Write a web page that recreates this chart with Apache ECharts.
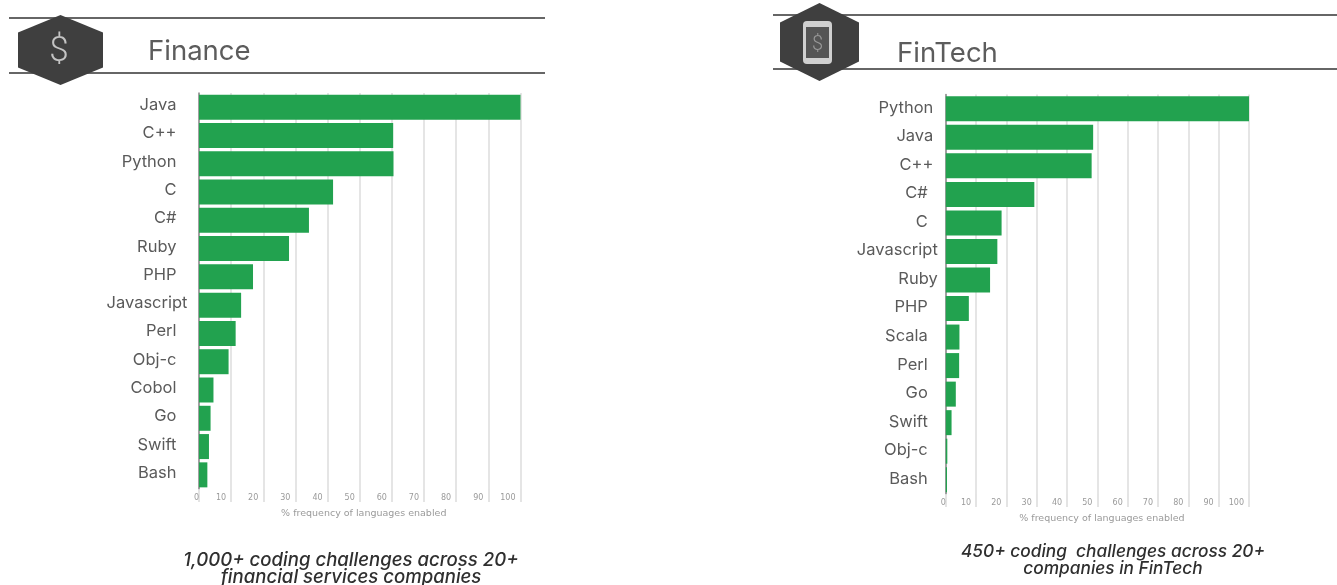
<!DOCTYPE html>
<html>
<head>
<meta charset="utf-8">
<style>html,body{margin:0;padding:0;background:#fff}#chart{width:1337px;height:585px}</style>
<script src="https://cdn.jsdelivr.net/npm/echarts@6/dist/echarts.min.js"></script>
</head>
<body>
<div id="chart"></div>
<script>
// Language popularity among finance and fintech coding challenges (% of challenges enabling each language)
const financeLanguages = ['Java','C++','Python','C','C#','Ruby','PHP','Javascript','Perl','Obj-c','Cobol','Go','Swift','Bash'];
const financeShares = [100,60.4,60.5,41.7,34.2,28,16.8,13.1,11.4,9.2,4.5,3.6,3.1,2.6];
const fintechLanguages = ['Python','Java','C++','C#','C','Javascript','Ruby','PHP','Scala','Perl','Go','Swift','Obj-c','Bash'];
const fintechShares = [100,48.6,48.1,29.2,18.4,17,14.6,7.6,4.5,4.4,3.3,1.9,0.5,0.4];
const axisTitle = '% frequency of languages enabled';
const financeCaption = '1,000+ coding challenges across 20+\nfinancial services companies';
const fintechCaption = '450+ coding  challenges across 20+\ncompanies in FinTech';

const GREEN = '#22a24f';
const INK = '#5a5a5a';
const HEX = '#3f3f3f';

// Right-hand inset of the category labels, keyed by language
const financeInset = l => l === 'Javascript' ? 'a' : 'c';
const fintechInset = l => (l === 'Javascript' || l === 'Ruby') ? 'a'
  : (l === 'Python' || l === 'Java' || l === 'C++') ? 'b' : 'c';

function labelRich(lift, b, c) {
  const base = { fontFamily: 'Inter', fontSize: 16.5, color: INK };
  return {
    a: { ...base, padding: [0, 0, lift, 0] },
    b: { ...base, padding: [0, b, lift, 0] },
    c: { ...base, padding: [0, c, lift, 0] }
  };
}

function xAxisFor(index, gap, nudge) {
  return {
    type: 'value', gridIndex: index, min: 0, max: 100, interval: 10,
    name: axisTitle, nameLocation: 'middle', nameGap: gap,
    nameTextStyle: { fontFamily: 'DejaVu Sans', fontSize: 9.5, color: '#9a9a9a', padding: [0, 0, 0, nudge] },
    axisLine: { show: false },
    axisTick: { show: true, length: 13, lineStyle: { color: '#dcdcdc', width: 1.5 } },
    splitLine: { show: true, lineStyle: { color: '#dcdcdc', width: 1.5 } },
    axisLabel: {
      fontFamily: 'DejaVu Sans', fontSize: 8, color: '#9a9a9a', margin: 5,
      align: 'right', alignMinLabel: 'center', padding: [0, 5, 0, 0], showMinLabel: true
    }
  };
}

function yAxisFor(index, names, margin, inset, rich) {
  return {
    type: 'category', gridIndex: index, data: names, inverse: true,
    axisLine: { show: true, lineStyle: { color: '#8a8a8a', width: 1.5 } },
    axisTick: { show: false },
    axisLabel: {
      margin, interval: 0, rich,
      formatter: v => '{' + inset(v) + '|' + v + '}'
    }
  };
}

function barSeries(index, values) {
  return {
    type: 'bar', xAxisIndex: index, yAxisIndex: index, data: values,
    barWidth: 25, silent: true, itemStyle: { color: GREEN }
  };
}

// Header band: two rules and a hexagon badge
function hexagon(cx, cy, rx, ry) {
  return {
    type: 'polygon', z: 5,
    shape: { points: [[cx, cy - ry], [cx + rx, cy - ry / 2], [cx + rx, cy + ry / 2], [cx, cy + ry], [cx - rx, cy + ry / 2], [cx - rx, cy - ry / 2]] },
    style: { fill: HEX }
  };
}
function rule(x1, x2, y) {
  return { type: 'line', z: 4, shape: { x1, y1: y, x2, y2: y }, style: { stroke: '#666', lineWidth: 2 } };
}
function label(text, x, y, font, fill, align, z) {
  return {
    type: 'text', z: z || 6, x, y,
    style: { text, font, fill, align: align || 'left', verticalAlign: 'middle', lineHeight: 17 }
  };
}

const graphics = [
  rule(9, 545, 18), rule(9, 545, 73), hexagon(60.5, 50, 42.5, 35),
  label('$', 59, 52, '300 35px Roboto', '#c4c4c4', 'center'),
  label('Finance', 148, 52, '27.5px Inter', '#5c5c5c'),
  label(financeCaption, 351, 569, 'italic 500 18.6px Inter', '#2f2f2f', 'center'),

  rule(773, 1337, 15), rule(773, 1337, 69), hexagon(819.5, 42, 39.5, 39),
  { type: 'rect', z: 6, shape: { x: 803, y: 21, width: 29, height: 43, r: 4 }, style: { fill: '#d0d0d0' } },
  { type: 'rect', z: 7, shape: { x: 806, y: 27, width: 23, height: 31 }, style: { fill: '#555' } },
  label('$', 817.5, 45, '300 20px Roboto', '#999', 'center', 8),
  label('FinTech', 897, 54, '27.5px Inter', '#5c5c5c'),
  label(fintechCaption, 1113, 560, 'italic 500 17.3px Inter', '#2f2f2f', 'center')
];

const chart = echarts.init(document.getElementById('chart'), null, { renderer: 'canvas' });
chart.setOption({
  animation: false,
  backgroundColor: '#fff',
  grid: [
    { left: 199, width: 321.5, top: 93, height: 396 },
    { left: 945.8, width: 303.2, top: 94.5, height: 399.5 }
  ],
  xAxis: [xAxisFor(0, 20, 8), xAxisFor(1, 20, 9)],
  yAxis: [
    yAxisFor(0, financeLanguages, 11.5, financeInset, labelRich(4, 0, 11)),
    yAxisFor(1, fintechLanguages, 8, fintechInset, labelRich(2, 4.5, 10))
  ],
  series: [barSeries(0, financeShares), barSeries(1, fintechShares)],
  graphic: graphics
});
</script>
</body>
</html>
